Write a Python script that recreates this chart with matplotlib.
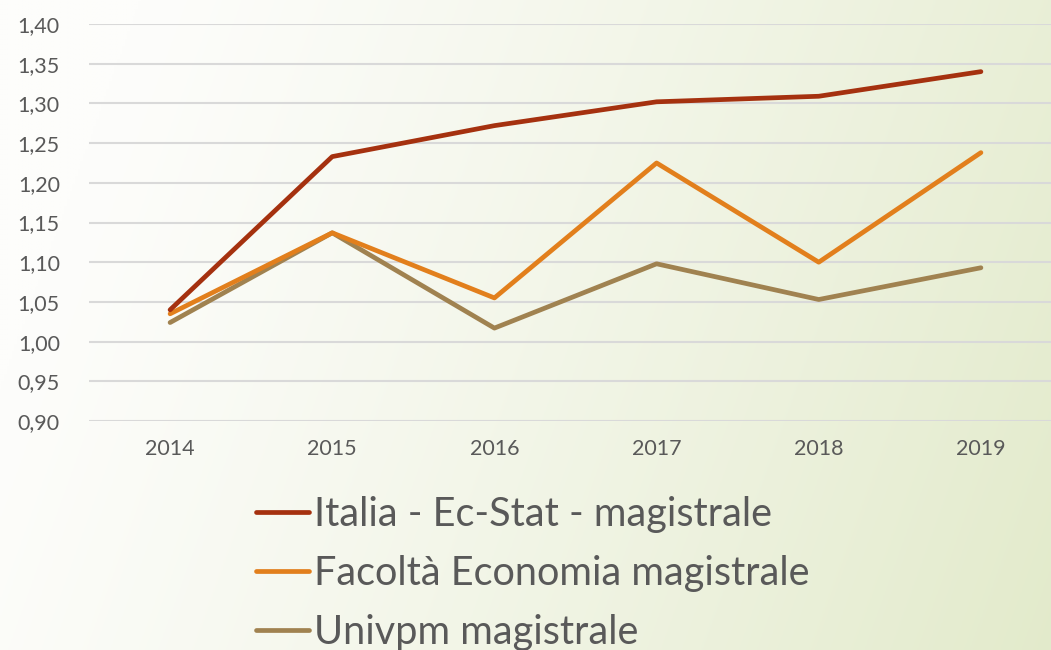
import numpy as np
import matplotlib
matplotlib.use('Agg')
import matplotlib.pyplot as plt

# Data
years = ['2014', '2015', '2016', '2017', '2018', '2019']
italia = [1.040, 1.233, 1.272, 1.302, 1.309, 1.340]
facolta = [1.035, 1.137, 1.055, 1.225, 1.100, 1.238]
univpm = [1.024, 1.137, 1.017, 1.098, 1.053, 1.093]
yticks = [0.90, 0.95, 1.00, 1.05, 1.10, 1.15, 1.20, 1.25, 1.30, 1.35, 1.40]

plt.rcParams['font.family'] = ['Lato', 'DejaVu Sans']

fig = plt.figure(figsize=(10.51, 6.5), dpi=100)

# Background gradient (white left -> pale green right)
bg = fig.add_axes([0, 0, 1, 1], zorder=-10)
gx = np.linspace(0, 1, 400)
gy = np.linspace(0, 1, 260)
X, Y = np.meshgrid(gx, gy)
t = np.clip(0.9 * X + 0.2 * Y - 0.12, 0, 1) ** 1.2
c0 = np.array([253, 253, 251]) / 255
c1 = np.array([226, 234, 202]) / 255
img = c0[None, None, :] * (1 - t[..., None]) + c1[None, None, :] * t[..., None]
bg.imshow(img, aspect='auto', extent=[0, 1, 0, 1], origin='upper')
bg.axis('off')

# Plot area (extends slightly past right edge as in original)
ax = fig.add_axes([89 / 1051, 1 - 421 / 650, (1062 - 89) / 1051, (421 - 24) / 650])
ax.patch.set_alpha(0)

x = np.arange(len(years))
kw = dict(lw=3.4, solid_capstyle='round', solid_joinstyle='round')
ax.plot(x, univpm, color='#a08250', label='Univpm magistrale', zorder=3, **kw)
ax.plot(x, facolta, color='#e27f1c', label='Facoltà Economia magistrale', zorder=4, **kw)
ax.plot(x, italia, color='#a5310f', label='Italia - Ec-Stat - magistrale', zorder=5, **kw)

ax.set_xlim(-0.5, len(years) - 0.5)
ax.set_ylim(0.90, 1.40)
ax.set_yticks(yticks)
ax.set_yticklabels([f'{v:.2f}'.replace('.', ',') for v in yticks])
ax.set_xticks(x)
ax.set_xticklabels(years)
ax.yaxis.grid(True, color='#d9d9d9', lw=1.5)
ax.set_axisbelow(True)
for s in ax.spines.values():
    s.set_visible(False)
ax.tick_params(length=0, labelsize=15.5, colors='#595959')
ax.tick_params(axis='y', pad=21)
ax.tick_params(axis='x', pad=13)

# Legend
handles, labels = ax.get_legend_handles_labels()
order = [2, 1, 0]
fig.legend([handles[i] for i in order], [labels[i] for i in order],
           loc='upper left', bbox_to_anchor=(256 / 1051, 1 - 496 / 650),
           frameon=False, fontsize=28.5, labelcolor='#595959',
           handlelength=1.35, handletextpad=0.12, labelspacing=0.55,
           borderpad=0, borderaxespad=0)

fig.savefig('out.png', dpi=100)
